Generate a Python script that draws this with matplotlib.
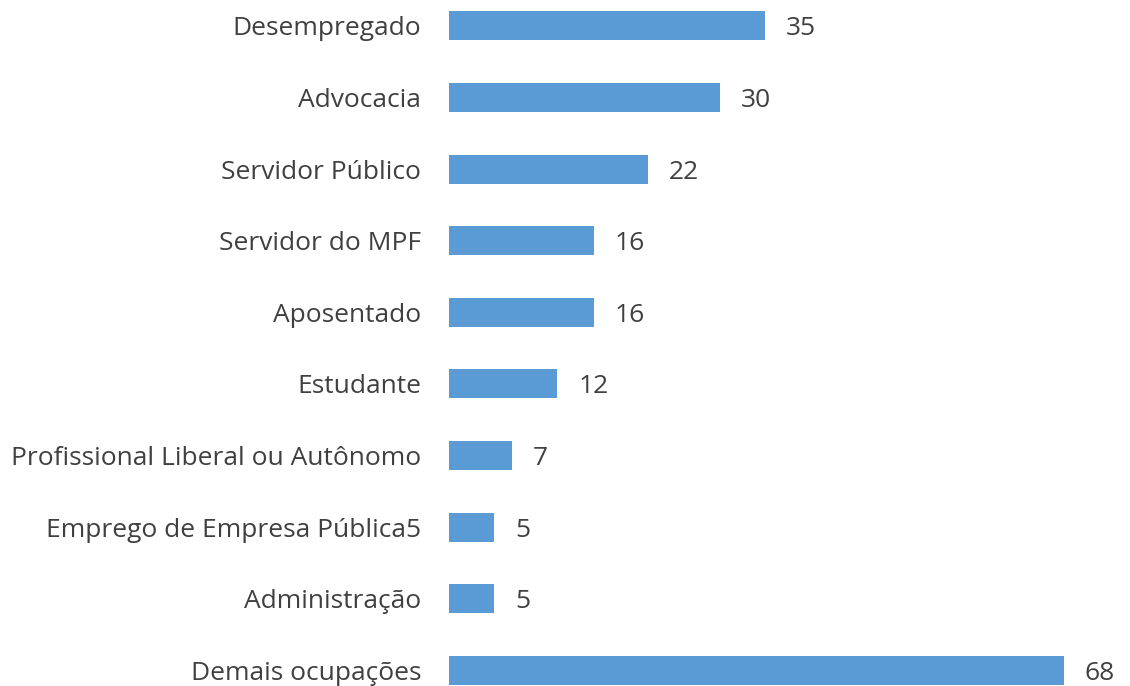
import matplotlib
matplotlib.use("Agg")
import matplotlib.pyplot as plt

plt.rcParams["font.family"] = ["Open Sans", "DejaVu Sans"]

COLOR_BAR = "#5B9BD5"
COLOR_TEXT = "#404040"

categories = [
    "Desempregado",
    "Advocacia",
    "Servidor Público",
    "Servidor do MPF",
    "Aposentado",
    "Estudante",
    "Profissional Liberal ou Autônomo",
    "Emprego de Empresa Pública5",
    "Administração",
    "Demais ocupações",
]
values = [35, 30, 22, 16, 16, 12, 7, 5, 5, 68]

fig = plt.figure(figsize=(11.30, 6.86), dpi=100, facecolor="white")
ax = fig.add_axes([449 / 1130, 0, 678 / 1130, 1])

pos = list(range(len(categories)))
ax.barh(pos, values, height=0.405, color=COLOR_BAR)

for p, v in zip(pos, values):
    ax.annotate(str(v), (v, p), xytext=(15, 0), textcoords="offset points",
                ha="left", va="center_baseline", fontsize=19, color=COLOR_TEXT)

ax.set_xlim(0, 75)
ax.set_ylim(9.218, -0.363)
ax.set_yticks(pos)
ax.set_yticklabels(categories, fontsize=19, color=COLOR_TEXT, va="center_baseline")
ax.tick_params(axis="y", length=0, pad=20)
ax.set_xticks([])
for s in ax.spines.values():
    s.set_visible(False)

fig.savefig("out.png", dpi=100)
